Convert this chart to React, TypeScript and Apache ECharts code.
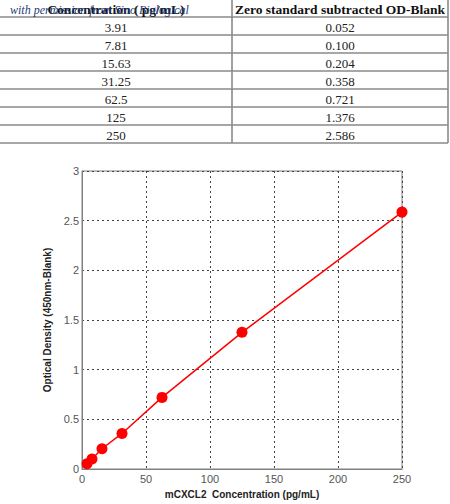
import React, { useEffect, useRef } from "react";
import * as echarts from "echarts";

const concLabels = ["3.91", "7.81", "15.63", "31.25", "62.5", "125", "250"];
const odLabels = ["0.052", "0.100", "0.204", "0.358", "0.721", "1.376", "2.586"];
const concentrations = [3.91, 7.81, 15.63, 31.25, 62.5, 125, 250];
const odValues = [0.052, 0.1, 0.204, 0.358, 0.721, 1.376, 2.586];
const headers = ["Concentration ( pg/mL)", "Zero standard subtracted OD-Blank"];
const watermark = "with permission from Sino Biological";
const xTitle = "mCXCL2  Concentration (pg/mL)";
const yTitle = "Optical Density (450nm-Blank)";

export default function App() {
  const ref = useRef<HTMLDivElement>(null);
  useEffect(() => {
    document.body.style.margin = "0";
    const chart = echarts.init(ref.current!, undefined, { renderer: "svg" });
    const rowH = 18;
    const top0 = 17;
    const graphic: any[] = [];
    for (let i = 0; i <= concLabels.length; i++) {
      graphic.push({
        type: "line",
        shape: { x1: 0, y1: top0 + rowH * i, x2: 448, y2: top0 + rowH * i },
        style: { stroke: "#8a8a8a", lineWidth: 1.6 },
      });
    }
    [232, 448].forEach((x) =>
      graphic.push({
        type: "line",
        shape: { x1: x, y1: 0, x2: x, y2: top0 + rowH * concLabels.length },
        style: { stroke: "#8a8a8a", lineWidth: 1.6 },
      })
    );
    const colCenters = [116, 340];
    headers.forEach((h, j) =>
      graphic.push({
        type: "text",
        x: colCenters[j],
        y: 9,
        style: {
          text: h,
          font: "bold 13.5px 'Liberation Serif'",
          fill: "#111",
          align: "center",
          verticalAlign: "middle",
        },
      })
    );
    concLabels.forEach((c, i) => {
      [c, odLabels[i]].forEach((t, j) =>
        graphic.push({
          type: "text",
          x: colCenters[j],
          y: top0 + rowH * i + rowH / 2 + 1,
          style: {
            text: t,
            font: "13px 'Liberation Serif'",
            fill: "#222",
            align: "center",
            verticalAlign: "middle",
          },
        })
      );
    });
    graphic.push({
      type: "text",
      x: 10,
      y: 10,
      z: 10,
      style: {
        text: watermark,
        font: "italic 12px 'Liberation Serif'",
        fill: "#1f3a7a",
        align: "left",
        verticalAlign: "middle",
      },
    });

    chart.setOption({
      animation: false,
      backgroundColor: "#fff",
      graphic,
      grid: {
        left: 82,
        top: 171,
        width: 320,
        height: 301,
        show: true,
        borderColor: "#808080",
        borderWidth: 1,
        backgroundColor: "transparent",
      },
      xAxis: {
        type: "value",
        min: 0,
        max: 250,
        interval: 50,
        name: xTitle,
        nameLocation: "middle",
        nameGap: 20,
        nameTextStyle: { fontFamily: "Liberation Sans", fontWeight: "bold", fontSize: 10, color: "#222" },
        axisLine: { show: true, lineStyle: { color: "#808080" } },
        axisTick: { show: false },
        axisLabel: { margin: 4, fontFamily: "Liberation Sans", fontSize: 11, color: "#555" },
        splitLine: { show: true, lineStyle: { color: "#444", type: [2, 3], width: 1 } },
      },
      yAxis: {
        type: "value",
        min: 0,
        max: 3,
        interval: 0.5,
        name: yTitle,
        nameLocation: "middle",
        nameGap: 24,
        nameRotate: 90,
        nameTextStyle: { fontFamily: "Liberation Sans", fontWeight: "bold", fontSize: 10, color: "#222" },
        axisLine: { show: true, lineStyle: { color: "#808080" } },
        axisTick: { show: false },
        axisLabel: { margin: 3, fontFamily: "Liberation Sans", fontSize: 11, color: "#555" },
        splitLine: { show: true, lineStyle: { color: "#444", type: [2, 3], width: 1 } },
      },
      series: [
        {
          type: "line",
          data: concentrations.map((c, i) => [c, odValues[i]]),
          symbol: "circle",
          symbolSize: 11,
          itemStyle: { color: "#ff0000" },
          lineStyle: { color: "#ff0000", width: 1.5 },
        },
      ],
    });
    return () => chart.dispose();
  }, []);
  return (
    <div
      ref={ref}
      style={{ position: "absolute", left: 0, top: 0, width: 450, height: 504 }}
    />
  );
}
